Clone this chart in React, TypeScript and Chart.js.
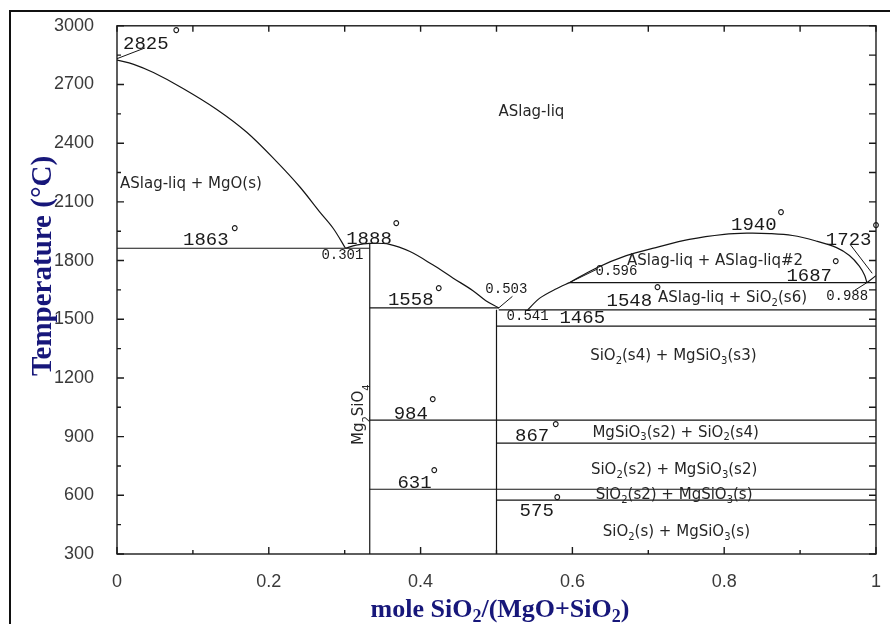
import React, { useEffect, useRef } from "react";
import { Chart, registerables } from "chart.js";

Chart.register(...registerables);

// ---------- axis data ----------
const X_TICKS = [0, 0.2, 0.4, 0.6, 0.8, 1];
const Y_MIN = 300;
const Y_MAX = 3000;
const Y_STEP = 300;

// ---------- phase boundaries (x = mole fraction SiO2, T in °C) ----------
const mgoLiquidus: [number, number][] = [
  [0, 2825], [0.022, 2803], [0.048, 2761], [0.087, 2680], [0.131, 2574],
  [0.171, 2456], [0.21, 2307], [0.241, 2176], [0.267, 2049], [0.285, 1964], [0.301, 1863],
];
const forsteriteLiquidus: [number, number][] = [
  [0.301, 1863], [0.315, 1879], [0.333, 1888], [0.359, 1883], [0.386, 1846],
  [0.416, 1778], [0.443, 1710], [0.469, 1646], [0.486, 1595], [0.503, 1558],
];
const enstatiteLiquidus: [number, number][] = [
  [0.541, 1548], [0.557, 1608], [0.579, 1656], [0.596, 1687],
];
const miscibilityGap: [number, number][] = [
  [0.596, 1687], [0.631, 1761], [0.671, 1825], [0.71, 1866], [0.754, 1908],
  [0.8, 1934], [0.83, 1940], [0.86, 1938], [0.89, 1928], [0.921, 1900],
  [0.948, 1866], [0.965, 1826], [0.978, 1772], [0.985, 1725], [0.988, 1687],
];
const cristobaliteLiquidus: [number, number][] = [[0.988, 1687], [1, 1723]];

// isotherms
const isothermT = [1863, 1558, 1548, 1687, 1465, 984, 867, 631, 575];
const isothermFrom = [0, 0.333, 0.503, 0.596, 0.5, 0.333, 0.5, 0.333, 0.5];
const isothermTo = [0.333, 0.503, 1, 1, 1, 1, 1, 1, 1];

// compound lines (Mg2SiO4, MgSiO3)
const compoundX = [0.333, 0.5];
const compoundTop = [1888, 1548];

// label leader lines
const leaderLines: [number, number][][] = [
  [[0, 2832], [0.037, 2887]],
  [[0.503, 1558], [0.521, 1617]],
  [[0.596, 1687], [0.633, 1757]],
  [[0.988, 1687], [0.972, 1648]],
  [[0.995, 1735], [0.966, 1882]],
];

// ---------- texts ----------
const regionLabels = [
  { text: "ASlag-liq", x: 0.546, t: 2558, align: "center" },
  { text: "ASlag-liq + MgO(s)", x: 0.004, t: 2192, align: "left" },
  { text: "ASlag-liq + ASlag-liq#2", x: 0.788, t: 1795, align: "center" },
  { text: "ASlag-liq + SiO_2(s6)", x: 0.811, t: 1607, align: "center" },
  { text: "SiO_2(s4) + MgSiO_3(s3)", x: 0.733, t: 1312, align: "center" },
  { text: "MgSiO_3(s2) + SiO_2(s4)", x: 0.736, t: 920, align: "center" },
  { text: "SiO_2(s2) + MgSiO_3(s2)", x: 0.734, t: 727, align: "center" },
  { text: "SiO_2(s2) + MgSiO_3(s)", x: 0.734, t: 600, align: "center" },
  { text: "SiO_2(s) + MgSiO_3(s)", x: 0.737, t: 412, align: "center" },
];

const tempLabels = [
  { text: "2825", x: 0.038, t: 2908, dx: 0.078, dt: 2969 },
  { text: "1863", x: 0.117, t: 1907, dx: 0.155, dt: 1958 },
  { text: "1888", x: 0.332, t: 1912, dx: 0.368, dt: 1983 },
  { text: "1558", x: 0.387, t: 1597, dx: 0.424, dt: 1647 },
  { text: "1548", x: 0.675, t: 1592, dx: 0.712, dt: 1653 },
  { text: "1940", x: 0.839, t: 1983, dx: 0.875, dt: 2039 },
  { text: "1723", x: 0.964, t: 1907, dx: 1.0, dt: 1973 },
  { text: "1687", x: 0.912, t: 1719, dx: 0.947, dt: 1785 },
  { text: "984", x: 0.387, t: 1017, dx: 0.416, dt: 1083 },
  { text: "867", x: 0.547, t: 905, dx: 0.578, dt: 956 },
  { text: "631", x: 0.392, t: 661, dx: 0.418, dt: 717 },
  { text: "575", x: 0.553, t: 519, dx: 0.58, dt: 580 },
  { text: "1465", x: 0.613, t: 1505, dx: null, dt: null },
];

const compLabels = [
  { text: "0.301", x: 0.297, t: 1825 },
  { text: "0.503", x: 0.513, t: 1653 },
  { text: "0.541", x: 0.541, t: 1515 },
  { text: "0.596", x: 0.658, t: 1744 },
  { text: "0.988", x: 0.962, t: 1617 },
];

const compoundName = { text: "Mg_2SiO_4", x: 0.319, t: 1012 };

const X_TITLE = "mole SiO_2/(MgO+SiO_2)";
const Y_TITLE = "Temperature (°C)";

// ---------- helpers ----------
type Part = { t: string; sub: boolean };
function parseRich(text: string): Part[] {
  const parts: Part[] = [];
  let buf = "";
  for (let i = 0; i < text.length; i++) {
    if (text[i] === "_" && i + 1 < text.length) {
      if (buf) parts.push({ t: buf, sub: false });
      buf = "";
      parts.push({ t: text[i + 1], sub: true });
      i++;
    } else buf += text[i];
  }
  if (buf) parts.push({ t: buf, sub: false });
  return parts;
}

function drawRich(
  ctx: CanvasRenderingContext2D,
  text: string,
  x: number,
  y: number,
  font: string,
  size: number,
  align: string,
  subDrop: number
) {
  const parts = parseRich(text);
  const main = `${font.replace("{s}", String(size))}`;
  const sub = `${font.replace("{s}", String(Math.round(size * 0.68)))}`;
  let total = 0;
  const widths = parts.map((p) => {
    ctx.font = p.sub ? sub : main;
    const w = ctx.measureText(p.t).width;
    total += w;
    return w;
  });
  let cx = align === "center" ? x - total / 2 : x;
  ctx.textAlign = "left";
  parts.forEach((p, i) => {
    ctx.font = p.sub ? sub : main;
    ctx.fillText(p.t, cx, p.sub ? y + subDrop : y);
    cx += widths[i];
  });
}

const toPts = (arr: [number, number][]) => arr.map(([x, y]) => ({ x, y }));

const decorPlugin = {
  id: "phaseDecor",
  beforeDraw(chart: any) {
    const ctx = chart.ctx as CanvasRenderingContext2D;
    ctx.save();
    ctx.fillStyle = "#ffffff";
    ctx.fillRect(0, 0, chart.width, chart.height);
    // outer frame (only top + left visible)
    ctx.strokeStyle = "#111";
    ctx.lineWidth = 2;
    ctx.beginPath();
    ctx.moveTo(10, chart.height + 5);
    ctx.lineTo(10, 11);
    ctx.lineTo(chart.width + 5, 11);
    ctx.stroke();
    ctx.restore();
  },
  afterDraw(chart: any) {
    const ctx = chart.ctx as CanvasRenderingContext2D;
    const xs = chart.scales.x;
    const ys = chart.scales.y;
    const a = chart.chartArea;
    ctx.save();
    // plot box
    ctx.strokeStyle = "#1a1a1a";
    ctx.lineWidth = 1.4;
    ctx.strokeRect(a.left, a.top, a.right - a.left, a.bottom - a.top);
    // inward ticks
    ctx.beginPath();
    for (let i = 0; i <= 10; i++) {
      const v = i / 10;
      const px = xs.getPixelForValue(v);
      const len = i % 2 === 0 ? 7 : 4;
      ctx.moveTo(px, a.bottom);
      ctx.lineTo(px, a.bottom - len);
      ctx.moveTo(px, a.top);
      ctx.lineTo(px, a.top + 6);
    }
    for (let v = Y_MIN; v <= Y_MAX; v += Y_STEP / 2) {
      const py = ys.getPixelForValue(v);
      const len = (v - Y_MIN) % Y_STEP === 0 ? 7 : 4;
      ctx.moveTo(a.left, py);
      ctx.lineTo(a.left + len, py);
      ctx.moveTo(a.right, py);
      ctx.lineTo(a.right - 7, py);
    }
    ctx.stroke();

    // region labels
    ctx.fillStyle = "#262626";
    ctx.textBaseline = "middle";
    regionLabels.forEach((l) => {
      drawRich(ctx, l.text, xs.getPixelForValue(l.x), ys.getPixelForValue(l.t),
        "{s}px 'DejaVu Sans'", 15, l.align, 5);
    });
    // temperature labels
    ctx.fillStyle = "#1a1a1a";
    tempLabels.forEach((l) => {
      ctx.font = "19px 'Liberation Mono'";
      ctx.textAlign = "center";
      ctx.fillText(l.text, xs.getPixelForValue(l.x), ys.getPixelForValue(l.t));
      if (l.dx !== null) {
        ctx.font = "19px 'DejaVu Sans'";
        ctx.fillText("°", xs.getPixelForValue(l.dx), ys.getPixelForValue(l.dt as number) + 5);
      }
    });
    // composition labels
    compLabels.forEach((l) => {
      ctx.font = "14px 'Liberation Mono'";
      ctx.textAlign = "center";
      ctx.fillText(l.text, xs.getPixelForValue(l.x), ys.getPixelForValue(l.t));
    });
    // rotated compound name
    ctx.save();
    ctx.translate(xs.getPixelForValue(compoundName.x), ys.getPixelForValue(compoundName.t));
    ctx.rotate(-Math.PI / 2);
    ctx.fillStyle = "#262626";
    drawRich(ctx, compoundName.text, 0, 0, "{s}px 'DejaVu Sans'", 15, "center", 8);
    ctx.restore();

    // axis titles
    ctx.fillStyle = "#17177a";
    ctx.textBaseline = "alphabetic";
    drawRich(ctx, X_TITLE, 500, 617, "bold {s}px 'Liberation Serif'", 26, "center", 5);
    ctx.save();
    ctx.translate(51, 266);
    ctx.rotate(-Math.PI / 2);
    ctx.font = "bold 29px 'Liberation Serif'";
    ctx.textAlign = "center";
    ctx.fillText(Y_TITLE, 0, 0);
    ctx.restore();
    ctx.restore();
  },
};

export default function App() {
  const ref = useRef<HTMLCanvasElement | null>(null);

  useEffect(() => {
    document.body.style.margin = "0";
    const canvas = ref.current;
    if (!canvas) return;

    const lineStyle = {
      showLine: true,
      pointRadius: 0,
      borderColor: "#151515",
      borderWidth: 1.2,
      fill: false,
    };

    const datasets: any[] = [
      { label: "MgO liquidus", data: toPts(mgoLiquidus), tension: 0.35, ...lineStyle },
      { label: "Mg2SiO4 liquidus", data: toPts(forsteriteLiquidus), tension: 0.35, ...lineStyle },
      { label: "MgSiO3 liquidus", data: toPts(enstatiteLiquidus), tension: 0.3, ...lineStyle },
      { label: "Miscibility gap", data: toPts(miscibilityGap), tension: 0.35, ...lineStyle },
      { label: "SiO2 liquidus", data: toPts(cristobaliteLiquidus), tension: 0, ...lineStyle },
    ];
    isothermT.forEach((t, i) => {
      datasets.push({
        label: `${t}`,
        data: [{ x: isothermFrom[i], y: t }, { x: isothermTo[i], y: t }],
        tension: 0,
        ...lineStyle,
      });
    });
    compoundX.forEach((x, i) => {
      datasets.push({
        label: `compound ${x}`,
        data: [{ x, y: Y_MIN }, { x, y: compoundTop[i] }],
        tension: 0,
        ...lineStyle,
      });
    });
    leaderLines.forEach((seg, i) => {
      datasets.push({
        label: `leader ${i}`,
        data: toPts(seg),
        tension: 0,
        ...lineStyle,
        borderWidth: 1,
      });
    });

    const chart = new Chart(canvas, {
      type: "scatter",
      data: { datasets },
      options: {
        animation: false,
        responsive: false,
        maintainAspectRatio: false,
        layout: { padding: { left: 0, right: 13, top: 23, bottom: 0 } },
        plugins: { legend: { display: false }, tooltip: { enabled: false } },
        scales: {
          x: {
            type: "linear",
            min: 0,
            max: 1,
            afterFit: (s: any) => {
              s.height = 70;
            },
            afterBuildTicks: (s: any) => {
              s.ticks = X_TICKS.map((v) => ({ value: v }));
            },
            grid: { display: false },
            border: { display: false },
            ticks: {
              autoSkip: false,
              maxRotation: 0,
              padding: 9,
              color: "#3a3a3a",
              font: { family: "'Liberation Sans'", size: 18 },
              callback: (v: any) => String(Math.round(Number(v) * 10) / 10),
            },
          },
          y: {
            type: "linear",
            min: Y_MIN,
            max: Y_MAX,
            afterFit: (s: any) => {
              s.width = 117;
            },
            grid: { display: false },
            border: { display: false },
            ticks: {
              stepSize: Y_STEP,
              padding: 15,
              color: "#3a3a3a",
              font: { family: "'Liberation Sans'", size: 18 },
              callback: (v: any) => String(Math.round(Number(v))),
            },
          },
        },
      },
      plugins: [decorPlugin],
    });
    return () => chart.destroy();
  }, []);

  return (
    <canvas
      ref={ref}
      width={890}
      height={624}
      style={{ display: "block", width: 890, height: 624 }}
    />
  );
}
